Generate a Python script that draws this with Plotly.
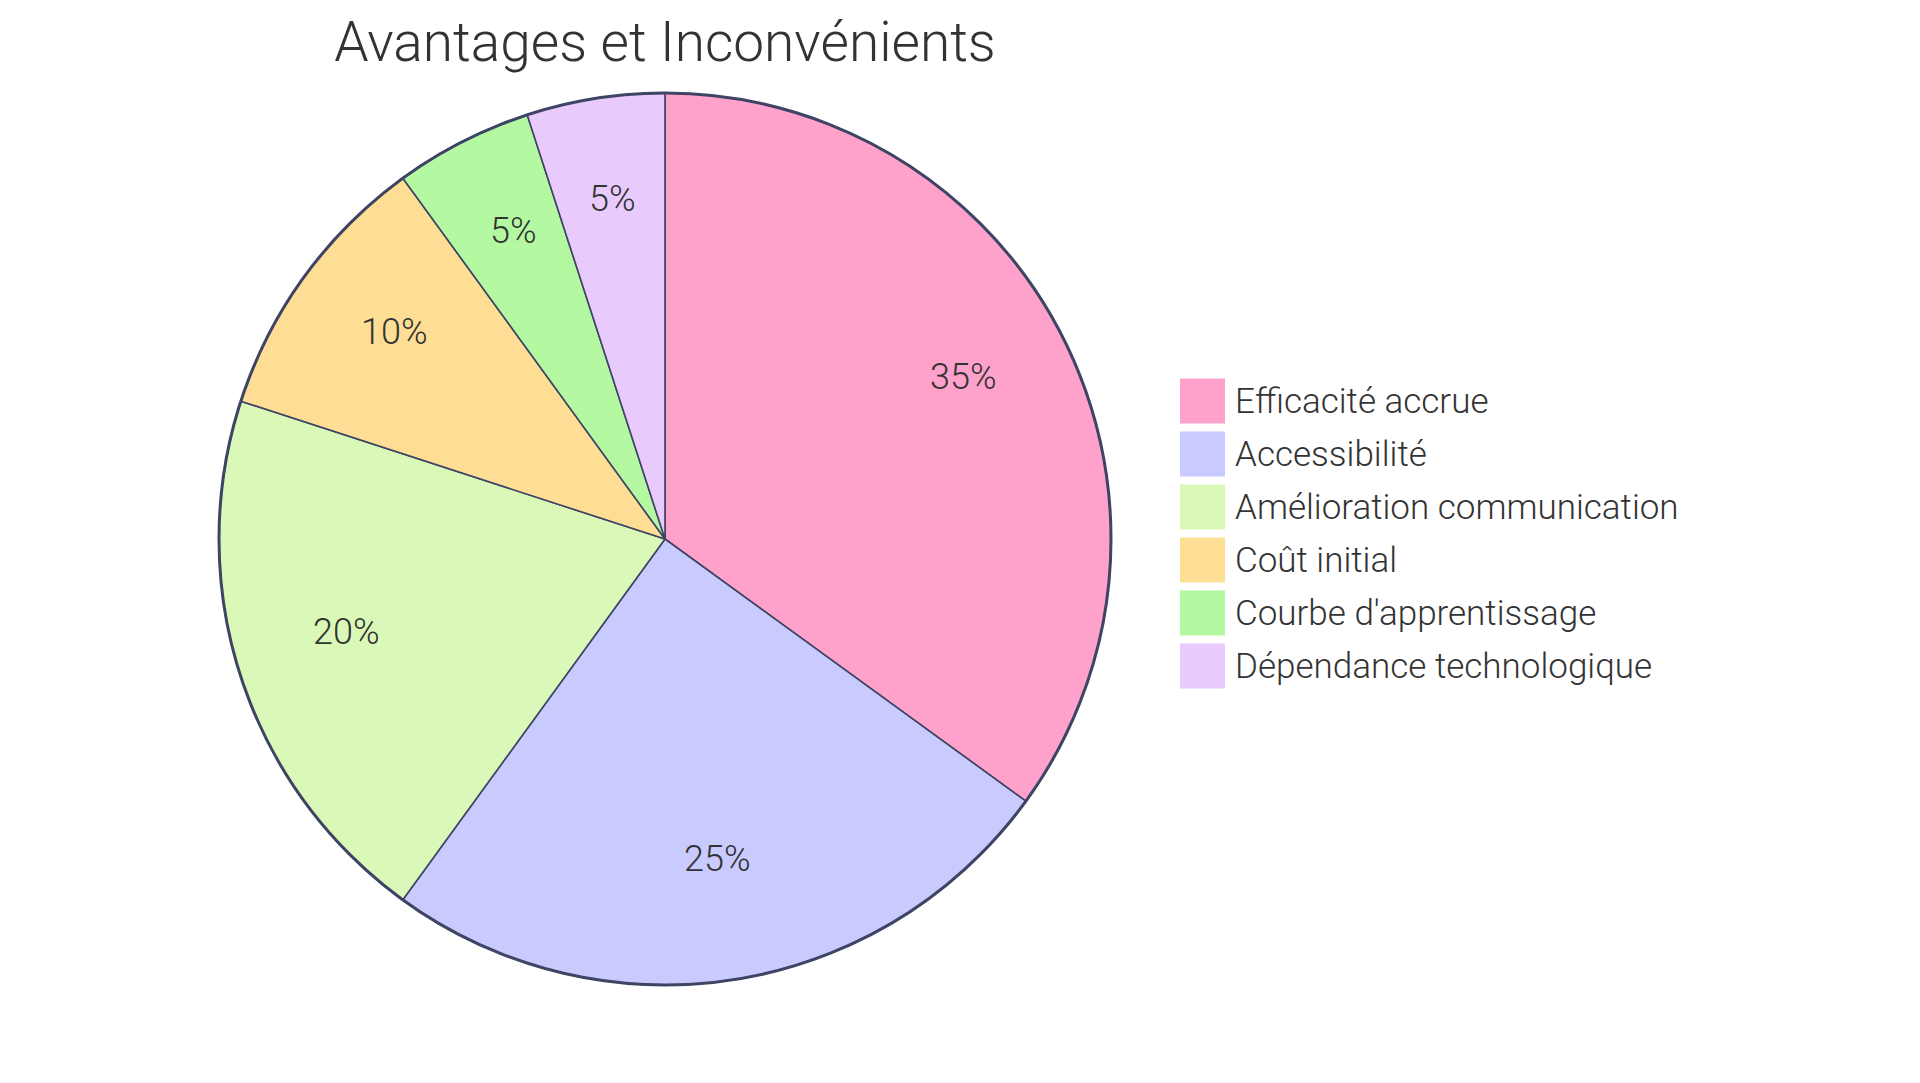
import math

import plotly.graph_objects as go

# %% Data
labels = [
    "Efficacité accrue",
    "Accessibilité",
    "Amélioration communication",
    "Coût initial",
    "Courbe d'apprentissage",
    "Dépendance technologique",
]
values = [35, 25, 20, 10, 5, 5]
colors = ["#FFA2CB", "#C9CAFE", "#DAF9B8", "#FEDE94", "#B4F8A2", "#E8CAFD"]
title_text = "Avantages et Inconvénients"

# %% Layout constants (pixels; page body adds ~8px offset)
W, H = 1920, 1083
OFF = 10
CX, CY, R = 667 - OFF, 541 - OFF, 446
EDGE = "#3E4463"
TEXT = "#333333"
FONT = "Roboto"
WEIGHT = 300


def px_x(x):
    return x / W


def px_y(y):
    return 1 - y / H


fig = go.Figure(
    go.Pie(
        labels=labels,
        values=values,
        sort=False,
        direction="clockwise",
        rotation=0,
        marker=dict(colors=colors, line=dict(color=EDGE, width=1.6)),
        textinfo="none",
        hoverinfo="label+percent",
        showlegend=False,
        domain=dict(x=[px_x(CX - R), px_x(CX + R)], y=[px_y(CY + R), px_y(CY - R)]),
    )
)

# outer rim drawn a bit heavier
fig.add_shape(
    type="circle", xref="paper", yref="paper",
    x0=px_x(CX - R), x1=px_x(CX + R), y0=px_y(CY + R), y1=px_y(CY - R),
    line=dict(color=EDGE, width=3), fillcolor="rgba(0,0,0,0)",
)

# percentage labels at 3/4 radius of each slice
total = sum(values)
cum = 0
for v in values:
    mid = (cum + v / 2) / total * 2 * math.pi
    cum += v
    lx = CX + 0.75 * R * math.sin(mid)
    ly = CY - 0.75 * R * math.cos(mid)
    fig.add_annotation(
        x=px_x(lx), y=px_y(ly), xref="paper", yref="paper",
        text=f"{round(v / total * 100)}%", showarrow=False,
        xanchor="center", yanchor="middle", yshift=10,
        font=dict(family=FONT, size=36, color=TEXT, weight=WEIGHT),
    )

# legend drawn as swatches + text
LX, LY0, STEP, SW = 1182 - OFF, 403 - OFF, 53, 45
for i, (lab, col) in enumerate(zip(labels, colors)):
    yc = LY0 + i * STEP
    fig.add_shape(
        type="rect", xref="paper", yref="paper",
        x0=px_x(LX), x1=px_x(LX + SW), y0=px_y(yc + SW / 2), y1=px_y(yc - SW / 2),
        fillcolor=col, line=dict(color=col, width=0),
    )
    fig.add_annotation(
        x=px_x(LX + SW + 8), y=px_y(yc), xref="paper", yref="paper",
        text=lab, showarrow=False, xanchor="left", yanchor="middle",
        font=dict(family=FONT, size=35, color=TEXT, weight=WEIGHT),
    )

fig.update_layout(
    width=W,
    height=H,
    margin=dict(l=0, r=0, t=0, b=0),
    paper_bgcolor="white",
    plot_bgcolor="white",
    title=dict(
        text=title_text, x=px_x(CX), xanchor="center", y=px_y(44 - OFF), yanchor="middle",
        font=dict(family=FONT, size=55, color=TEXT, weight=WEIGHT),
    ),
)

fig.write_html("out.html")
